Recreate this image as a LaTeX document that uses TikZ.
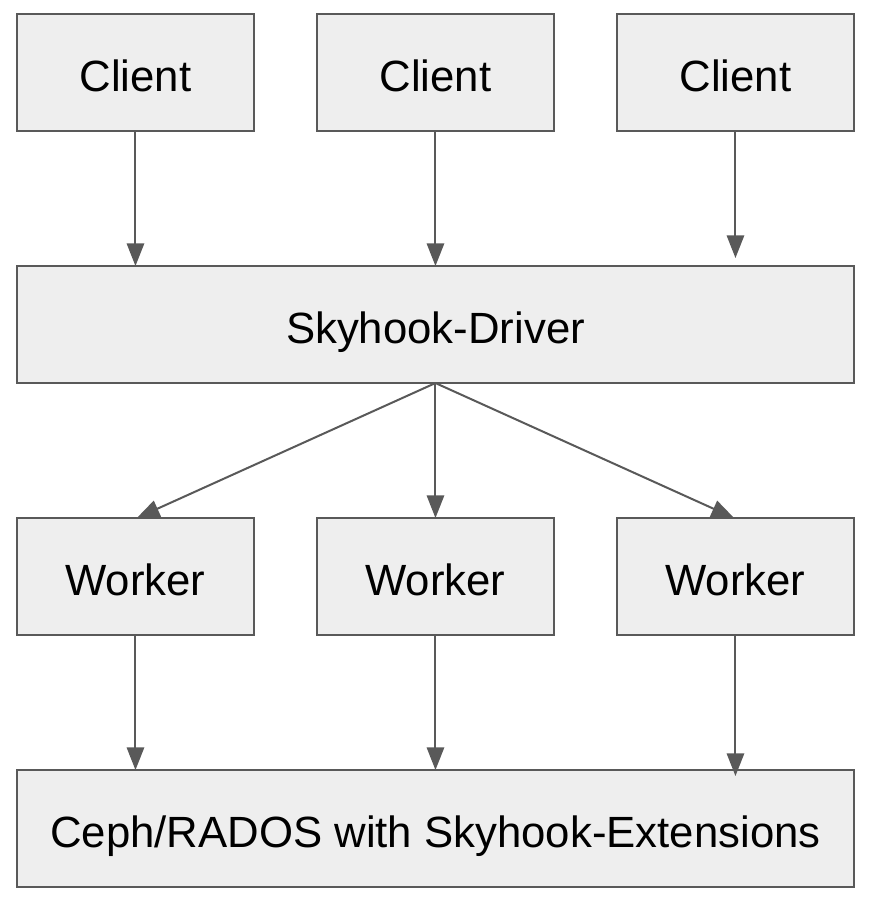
\documentclass[tikz,border=0pt]{standalone}
\usepackage{fontspec}
\setmainfont{Liberation Sans}
\usetikzlibrary{arrows.meta, positioning}
\definecolor{boxfill}{HTML}{EEEEEE}
\definecolor{lineclr}{HTML}{595959}
\tikzset{
  >={Triangle[length=17pt,width=13pt]},
  base/.style = {draw=lineclr, fill=boxfill, line width=1.5pt, outer sep=0pt,
                 minimum width=177.75pt, minimum height=87.75pt,
                 font=\fontsize{32.8}{39}\selectfont, text centered,
                 text height=28.9pt, text depth=0.3pt},
}

\begin{document}
\begin{tikzpicture}[
            node distance=101.25pt and 47.25pt,
            box/.style  = {base},
            wide/.style = {base, minimum width=627.75pt},
            link/.style = {->, draw=lineclr, line width=1.5pt},
        ]
        \useasboundingbox (0,0) rectangle (657pt,-678pt);

        \node[box] (client1) at (101.6pt,-54.4pt) {Client};
        \node[box, right=of client1] (client2) {Client};
        \node[box, right=of client2] (client3) {Client};
        \node[wide, below=of client2] (driver) {Skyhook-Driver};
        \node[box, below=of driver] (worker2) {Worker};
        \node[box, left=of worker2] (worker1) {Worker};
        \node[box, right=of worker2] (worker3) {Worker};
        \node[wide, below=of worker2] (ceph) {Ceph/RADOS with Skyhook-Extensions};

        \draw[link] (client1) -- (client1 |- driver.north);
        \draw[link] (client2) -- (driver);
        \draw[link, shorten >=6pt] (client3) -- (client3 |- driver.north);

        \draw[link] (driver.south) -- ([xshift=1pt]worker1.north);
        \draw[link] (driver.south) -- (worker2.north);
        \draw[link] (driver.south) -- ([xshift=-1pt]worker3.north);

        \draw[link] (worker1) -- (worker1 |- ceph.north);
        \draw[link] (worker2) -- (ceph);
        \draw[link, shorten >=-4.5pt] (worker3) -- (worker3 |- ceph.north);
        \end{tikzpicture}
\end{document}
